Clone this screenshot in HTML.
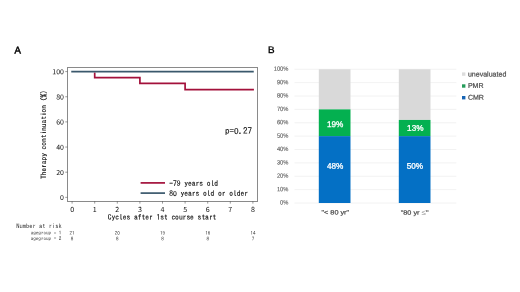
<!DOCTYPE html>
<html lang="en"><head><meta charset="utf-8"><title>Figure</title>
<style>html,body{margin:0;padding:0;background:#fff}body{width:520px;height:292px;overflow:hidden}svg{display:block}.m{font-family:IPAGothic,"Liberation Mono",monospace;fill:#111;stroke:#111;stroke-width:0.14px}.m.g{fill:#333;stroke:none}.s.y{fill:#606060;stroke:#606060;stroke-width:0.12px}.z{font-family:"Noto Sans CJK JP","Liberation Sans",sans-serif}.d{font-family:"Noto Sans CJK JP","Liberation Sans",sans-serif;fill:#111}.s{font-family:"Liberation Sans","Noto Sans CJK JP",sans-serif;fill:#4d4d4d;stroke:#4d4d4d;stroke-width:0.22px}.h{font-family:"Liberation Sans",sans-serif;font-size:9.6px;fill:#000;stroke:#000;stroke-width:0.5px}.w{font-family:"Liberation Sans",sans-serif;fill:#fff;stroke:#fff;stroke-width:0.3px;text-anchor:middle}</style></head><body>
<svg width="520" height="292" viewBox="0 0 520 292">
<rect width="520" height="292" fill="#fff"/>
<text class="h" transform="translate(14.4,53.5) rotate(0.03) scale(1,1.04)">A</text>
<rect x="67.5" y="67.5" width="190" height="134" fill="none" stroke="#8a8a8a" stroke-width="1"/>
<line x1="65.3" x2="67.5" y1="197.35" y2="197.35" stroke="#555" stroke-width="0.6"/>
<text class="d" transform="translate(64.00,200.05) rotate(0.03)" font-size="7.0" text-anchor="end">0</text>
<line x1="65.3" x2="67.5" y1="172.20" y2="172.20" stroke="#555" stroke-width="0.6"/>
<text class="d" transform="translate(64.00,174.90) rotate(0.03)" font-size="7.0" text-anchor="end">20</text>
<line x1="65.3" x2="67.5" y1="147.05" y2="147.05" stroke="#555" stroke-width="0.6"/>
<text class="d" transform="translate(64.00,149.75) rotate(0.03)" font-size="7.0" text-anchor="end">40</text>
<line x1="65.3" x2="67.5" y1="121.90" y2="121.90" stroke="#555" stroke-width="0.6"/>
<text class="d" transform="translate(64.00,124.60) rotate(0.03)" font-size="7.0" text-anchor="end">60</text>
<line x1="65.3" x2="67.5" y1="96.75" y2="96.75" stroke="#555" stroke-width="0.6"/>
<text class="d" transform="translate(64.00,99.45) rotate(0.03)" font-size="7.0" text-anchor="end">80</text>
<line x1="65.3" x2="67.5" y1="71.60" y2="71.60" stroke="#555" stroke-width="0.6"/>
<text class="d" transform="translate(64.00,74.30) rotate(0.03)" font-size="7.0" text-anchor="end">100</text>
<line x1="72.10" x2="72.10" y1="201.2" y2="203.6" stroke="#555" stroke-width="0.6"/>
<text class="d" transform="translate(72.10,212.00) rotate(0.03)" font-size="7.1" text-anchor="middle">0</text>
<line x1="94.70" x2="94.70" y1="201.2" y2="203.6" stroke="#555" stroke-width="0.6"/>
<text class="d" transform="translate(94.70,212.00) rotate(0.03)" font-size="7.1" text-anchor="middle">1</text>
<line x1="117.30" x2="117.30" y1="201.2" y2="203.6" stroke="#555" stroke-width="0.6"/>
<text class="d" transform="translate(117.30,212.00) rotate(0.03)" font-size="7.1" text-anchor="middle">2</text>
<line x1="139.90" x2="139.90" y1="201.2" y2="203.6" stroke="#555" stroke-width="0.6"/>
<text class="d" transform="translate(139.90,212.00) rotate(0.03)" font-size="7.1" text-anchor="middle">3</text>
<line x1="162.50" x2="162.50" y1="201.2" y2="203.6" stroke="#555" stroke-width="0.6"/>
<text class="d" transform="translate(162.50,212.00) rotate(0.03)" font-size="7.1" text-anchor="middle">4</text>
<line x1="185.10" x2="185.10" y1="201.2" y2="203.6" stroke="#555" stroke-width="0.6"/>
<text class="d" transform="translate(185.10,212.00) rotate(0.03)" font-size="7.1" text-anchor="middle">5</text>
<line x1="207.70" x2="207.70" y1="201.2" y2="203.6" stroke="#555" stroke-width="0.6"/>
<text class="d" transform="translate(207.70,212.00) rotate(0.03)" font-size="7.1" text-anchor="middle">6</text>
<line x1="230.30" x2="230.30" y1="201.2" y2="203.6" stroke="#555" stroke-width="0.6"/>
<text class="d" transform="translate(230.30,212.00) rotate(0.03)" font-size="7.1" text-anchor="middle">7</text>
<line x1="252.90" x2="252.90" y1="201.2" y2="203.6" stroke="#555" stroke-width="0.6"/>
<text class="d" transform="translate(252.90,212.00) rotate(0.03)" font-size="7.1" text-anchor="middle">8</text>
<text class="m" transform="translate(162.00,219.70) rotate(0.03)" x="-54.38 -50.62 -46.88 -43.12 -39.38 -35.62 -31.88 -28.12 -24.38 -20.62 -16.88 -13.12 -9.38 -5.62 -1.88 1.88 5.62 9.38 13.12 16.88 20.62 24.38 28.12 31.88 35.62 39.38 43.12 46.88 50.62" font-size="7.5">Cycles after 1st course start</text>
<text class="m" transform="translate(46.30,134.60) rotate(-89.97)" x="-44.40 -40.70 -37.00 -33.30 -29.60 -25.90 -22.20 -18.50 -14.80 -11.10 -7.40 -3.70 0.00 3.70 7.40 11.10 14.80 18.50 22.20 25.90 29.60 33.30 37.00 40.70" font-size="7.4">Therapy continuation (%)</text>
<path d="M94.70 72.61 L94.70 77.64 L139.90 77.64 L139.90 83.36 L185.10 83.36 L185.10 89.71 L253.92 89.71" fill="none" stroke="#a3113b" stroke-width="1.7" stroke-linejoin="miter"/>
<path d="M72.10 71.60 L252.90 71.60" fill="none" stroke="#3a586c" stroke-width="1.7" stroke-linecap="square"/>
<text class="m" transform="translate(224.90,134.00) rotate(0.03)" x="0.00 4.50 9.00 13.50 18.00 22.50" font-size="9">p=<tspan class="z" font-size="8.28">0</tspan>.27</text>
<line x1="140.6" x2="165" y1="182.9" y2="182.9" stroke="#a3113b" stroke-width="1.7"/>
<line x1="140.6" x2="165" y1="193.1" y2="193.1" stroke="#3a586c" stroke-width="1.7"/>
<text class="m" transform="translate(169.20,185.90) rotate(0.03)" x="0.00 3.75 7.50 11.25 15.00 18.75 22.50 26.25 30.00 33.75 37.50 41.25 45.00" font-size="7.5">-79 years old</text>
<text class="m" transform="translate(169.20,196.00) rotate(0.03)" x="0.00 3.75 7.50 11.25 15.00 18.75 22.50 26.25 30.00 33.75 37.50 41.25 45.00 48.75 52.50 56.25 60.00 63.75 67.50 71.25 75.00" font-size="7.5">8<tspan class="z" font-size="6.90">0</tspan> years old or older</text>
<text class="m g" transform="translate(16.20,228.30) rotate(0.03)" x="0.00 3.25 6.50 9.75 13.00 16.25 19.50 22.75 26.00 29.25 32.50 35.75 39.00 42.25" font-size="6.5">Number at risk</text>
<text class="m g" transform="translate(61.30,234.50) rotate(0.03)" x="-30.60 -28.05 -25.50 -22.95 -20.40 -17.85 -15.30 -12.75 -10.20 -7.65 -5.10 -2.55" font-size="5.1">agegroup = 1</text>
<text class="m g" transform="translate(61.30,240.20) rotate(0.03)" x="-30.60 -28.05 -25.50 -22.95 -20.40 -17.85 -15.30 -12.75 -10.20 -7.65 -5.10 -2.55" font-size="5.1">agegroup = 2</text>
<text class="m g" transform="translate(72.10,234.70) rotate(0.03)" x="-2.50 0.00" font-size="5">21</text>
<text class="m g" transform="translate(72.10,240.50) rotate(0.03)" x="-1.25" font-size="5">8</text>
<text class="m g" transform="translate(117.30,234.70) rotate(0.03)" x="-2.50 0.00" font-size="5">2<tspan class="z" font-size="4.60">0</tspan></text>
<text class="m g" transform="translate(117.30,240.50) rotate(0.03)" x="-1.25" font-size="5">8</text>
<text class="m g" transform="translate(162.50,234.70) rotate(0.03)" x="-2.50 0.00" font-size="5">19</text>
<text class="m g" transform="translate(162.50,240.50) rotate(0.03)" x="-1.25" font-size="5">8</text>
<text class="m g" transform="translate(207.70,234.70) rotate(0.03)" x="-2.50 0.00" font-size="5">16</text>
<text class="m g" transform="translate(207.70,240.50) rotate(0.03)" x="-1.25" font-size="5">8</text>
<text class="m g" transform="translate(252.90,234.70) rotate(0.03)" x="-2.50 0.00" font-size="5">14</text>
<text class="m g" transform="translate(252.90,240.50) rotate(0.03)" x="-1.25" font-size="5">7</text>
<text class="h" style="stroke-width:0.32px" transform="translate(267.95,53.05) rotate(0.03) scale(1.03,1.0)">B</text>
<line x1="294.5" x2="456.3" y1="203.00" y2="203.00" stroke="#e8e8e8" stroke-width="0.55"/>
<text class="s y" transform="translate(288.4,204.60) rotate(0.03) scale(1,1.08)" font-size="5.75" text-anchor="end">0%</text>
<line x1="294.5" x2="456.3" y1="189.62" y2="189.62" stroke="#e8e8e8" stroke-width="0.55"/>
<text class="s y" transform="translate(288.4,191.22) rotate(0.03) scale(1,1.08)" font-size="5.75" text-anchor="end">10%</text>
<line x1="294.5" x2="456.3" y1="176.25" y2="176.25" stroke="#e8e8e8" stroke-width="0.55"/>
<text class="s y" transform="translate(288.4,177.85) rotate(0.03) scale(1,1.08)" font-size="5.75" text-anchor="end">20%</text>
<line x1="294.5" x2="456.3" y1="162.88" y2="162.88" stroke="#e8e8e8" stroke-width="0.55"/>
<text class="s y" transform="translate(288.4,164.47) rotate(0.03) scale(1,1.08)" font-size="5.75" text-anchor="end">30%</text>
<line x1="294.5" x2="456.3" y1="149.50" y2="149.50" stroke="#e8e8e8" stroke-width="0.55"/>
<text class="s y" transform="translate(288.4,151.10) rotate(0.03) scale(1,1.08)" font-size="5.75" text-anchor="end">40%</text>
<line x1="294.5" x2="456.3" y1="136.12" y2="136.12" stroke="#e8e8e8" stroke-width="0.55"/>
<text class="s y" transform="translate(288.4,137.72) rotate(0.03) scale(1,1.08)" font-size="5.75" text-anchor="end">50%</text>
<line x1="294.5" x2="456.3" y1="122.75" y2="122.75" stroke="#e8e8e8" stroke-width="0.55"/>
<text class="s y" transform="translate(288.4,124.35) rotate(0.03) scale(1,1.08)" font-size="5.75" text-anchor="end">60%</text>
<line x1="294.5" x2="456.3" y1="109.38" y2="109.38" stroke="#e8e8e8" stroke-width="0.55"/>
<text class="s y" transform="translate(288.4,110.97) rotate(0.03) scale(1,1.08)" font-size="5.75" text-anchor="end">70%</text>
<line x1="294.5" x2="456.3" y1="96.00" y2="96.00" stroke="#e8e8e8" stroke-width="0.55"/>
<text class="s y" transform="translate(288.4,97.60) rotate(0.03) scale(1,1.08)" font-size="5.75" text-anchor="end">80%</text>
<line x1="294.5" x2="456.3" y1="82.63" y2="82.63" stroke="#e8e8e8" stroke-width="0.55"/>
<text class="s y" transform="translate(288.4,84.23) rotate(0.03) scale(1,1.08)" font-size="5.75" text-anchor="end">90%</text>
<line x1="294.5" x2="456.3" y1="69.25" y2="69.25" stroke="#e8e8e8" stroke-width="0.55"/>
<text class="s y" transform="translate(288.4,70.85) rotate(0.03) scale(1,1.08)" font-size="5.75" text-anchor="end">100%</text>
<rect x="318.8" y="69.25" width="31.70" height="40.12" fill="#d9d9d9"/>
<rect x="318.8" y="109.38" width="31.70" height="26.75" fill="#04b050"/>
<rect x="318.8" y="136.12" width="31.70" height="66.88" fill="#0470c5"/>
<rect x="398.8" y="69.25" width="31.70" height="50.69" fill="#d9d9d9"/>
<rect x="398.8" y="119.94" width="31.70" height="16.18" fill="#04b050"/>
<rect x="398.8" y="136.12" width="31.70" height="66.88" fill="#0470c5"/>
<text class="w" transform="translate(335.2,126.9) rotate(0.03)" font-size="8.2">19%</text>
<text class="w" transform="translate(335.2,168.7) rotate(0.03)" font-size="8.2">48%</text>
<text class="w" transform="translate(415.3,130.7) rotate(0.03)" font-size="8.2">13%</text>
<text class="w" transform="translate(414.9,168.7) rotate(0.03)" font-size="8.2">50%</text>
<text class="s" transform="translate(335.3,214.4) rotate(0.03) scale(1.15,1)" font-size="6.35" text-anchor="middle">"&lt; 80 yr"</text>
<text class="s" transform="translate(414.6,214.7) rotate(0.03) scale(1.15,1)" font-size="6.35" text-anchor="middle">"80 yr <tspan style="fill:#8a8a8a;stroke:none" font-size="7">≤</tspan>"</text>
<rect x="462" y="72.4" width="3.4" height="3.4" fill="#dcdcdc"/>
<text class="s" transform="translate(467.9,76.60) rotate(0.03)" font-size="7.05">unevaluated</text>
<rect x="462" y="84.3" width="3.4" height="3.4" fill="#259c5a"/>
<text class="s" transform="translate(467.9,88.00) rotate(0.03)" font-size="7.05">PMR</text>
<rect x="462" y="96.0" width="3.4" height="3.4" fill="#1765b5"/>
<text class="s" transform="translate(467.9,99.70) rotate(0.03)" font-size="7.05">CMR</text>
</svg></body></html>
